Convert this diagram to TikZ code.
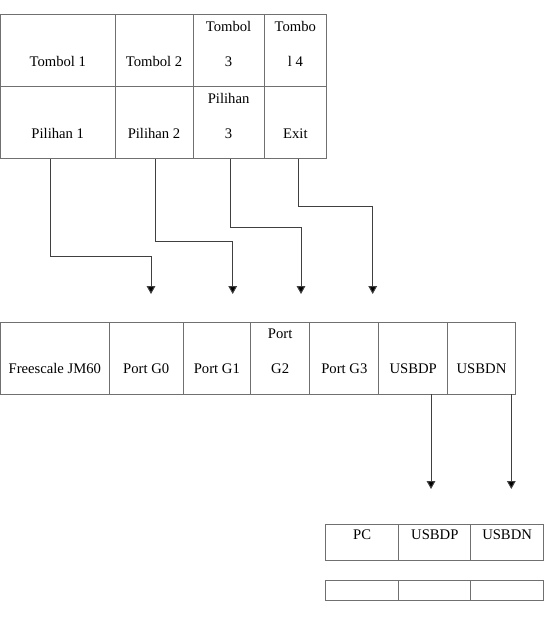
\documentclass[tikz,border=0pt]{standalone}
\usepackage{fontspec}
\setmainfont{Liberation Serif}
\usetikzlibrary{arrows.meta,positioning}
\definecolor{clGrid}{HTML}{707070}
\definecolor{clWire}{HTML}{404040}
\tikzset{
  cell/.style={rectangle, draw=clGrid, line width=0.75pt, inner sep=0pt, outer sep=0pt,
               minimum height=54pt, label={[celltext]south:#1}},
  celltext/.style={anchor=south, yshift=15.3pt, align=center, inner sep=0pt,
                   font=\fontsize{11}{26}\selectfont},
  link/.style={-{Triangle[length=6pt, width=6.5pt, fill=black]}, line width=0.75pt, draw=clWire},
}

\begin{document}
\begin{tikzpicture}[x=0.75pt, y=-0.75pt]
  \useasboundingbox (0,0) rectangle (551,620);
  % tombol / pilihan
  \node[cell={Tombol 1}, minimum width=85.9pt, anchor=north west] (t1) at (0.5,15) {};
  \node[cell={Tombol 2}, minimum width=58.5pt, right=0pt of t1] (t2) {};
  \node[cell={Tombol\\3}, minimum width=53.3pt, right=0pt of t2] (t3) {};
  \node[cell={Tombo\\l 4}, minimum width=46.9pt, right=0pt of t3] (t4) {};
  \node[cell={Pilihan 1}, minimum width=85.9pt, below=0pt of t1] (p1) {};
  \node[cell={Pilihan 2}, minimum width=58.5pt, below=0pt of t2] (p2) {};
  \node[cell={Pilihan\\3}, minimum width=53.3pt, below=0pt of t3] (p3) {};
  \node[cell={Exit}, minimum width=46.9pt, below=0pt of t4] (p4) {};
  % mikrokontroler
  \node[cell={Freescale JM60}, minimum width=81.5pt, minimum height=53.8pt, anchor=north west] (jm60) at (0.5,322.3) {};
  \node[cell={Port G0}, minimum width=55.5pt, minimum height=53.8pt, right=0pt of jm60] (g0) {};
  \node[cell={Port G1}, minimum width=50.5pt, minimum height=53.8pt, right=0pt of g0] (g1) {};
  \node[cell={Port\\G2}, minimum width=44.5pt, minimum height=53.8pt, right=0pt of g1] (g2) {};
  \node[cell={Port G3}, minimum width=51.75pt, minimum height=53.8pt, right=0pt of g2] (g3) {};
  \node[cell={USBDP}, minimum width=51.5pt, minimum height=53.8pt, right=0pt of g3] (dp) {};
  \node[cell={USBDN}, minimum width=51pt, minimum height=53.8pt, right=0pt of dp] (dn) {};
  % PC
  \node[cell={PC}, minimum width=54.75pt, minimum height=27.3pt, anchor=north west] (pc) at (325.7,524.3) {};
  \node[cell={USBDP}, minimum width=54.2pt, minimum height=27.3pt, right=0pt of pc] (pcdp) {};
  \node[cell={USBDN}, minimum width=54.2pt, minimum height=27.3pt, right=0pt of pcdp] (pcdn) {};
  \node[cell={}, minimum width=54.75pt, minimum height=15pt, below=15pt of pc] (e1) {};
  \node[cell={}, minimum width=54.2pt, minimum height=15pt, right=0pt of e1] (e2) {};
  \node[cell={}, minimum width=54.2pt, minimum height=15pt, right=0pt of e2] (e3) {};

  % arrow ends
  \coordinate (g0in) at (151,294);
  \coordinate (g1in) at (232.7,294);
  \coordinate (g2in) at (301,294);
  \coordinate (g3in) at (372.7,294);
  \coordinate (dpout) at (431,489);
  \coordinate (dnout) at (511.3,489);

  \draw[link] ([xshift=-5.8pt]p1.south) -- ++(0,97.5) -| (g0in);
  \draw[link] ([xshift=1.1pt]p2.south) -- ++(0,82.2) -| (g1in);
  \draw[link] ([xshift=1.5pt]p3.south) -- ++(0,68.2) -| (g2in);
  \draw[link] ([xshift=2.7pt]p4.south) -- ++(0,47.8) -| (g3in);
  \draw[link] (dp.south -| dpout) -- (dpout);
  \draw[link] (dn.south -| dnout) -- (dnout);
\end{tikzpicture}
\end{document}
